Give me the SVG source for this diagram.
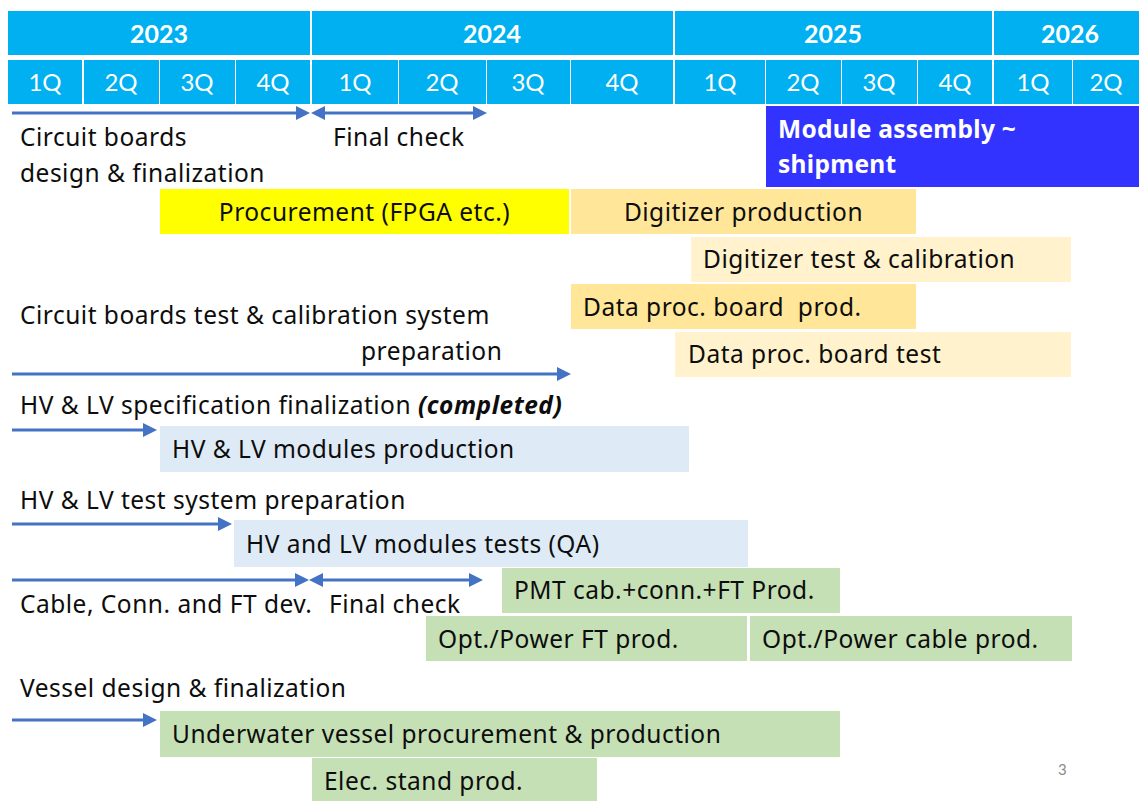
<svg xmlns="http://www.w3.org/2000/svg" width="1139" height="801" viewBox="0 0 1139 801">
  <style>
    .hdr { fill: #00B0F0; }
    .yr { fill: #FFFFFF; font-family: Lato, "Noto Sans", sans-serif; font-size: 25px; font-weight: bold; text-anchor: middle; }
    .qt { fill: #FFFFFF; font-family: Lato, "Noto Sans", sans-serif; font-size: 24px; text-anchor: middle; }
    .lbl { fill: #0D0D0D; font-family: "Noto Sans", "Open Sans", sans-serif; font-size: 24.5px; letter-spacing: 0.5px; }
    .wlbl { fill: #FFFFFF; font-family: "Noto Sans", "Open Sans", sans-serif; font-size: 24.5px; letter-spacing: 0.3px; font-weight: bold; }
    .arrow { stroke: #4472C4; stroke-width: 3; fill: none; }
    .yellow { fill: #FFFF00; }
    .orange { fill: #FFE699; }
    .cream { fill: #FFF2CC; }
    .lblue { fill: #DEEBF7; }
    .green { fill: #C5E0B4; }
    .violet { fill: #3333FF; }
  </style>
  <defs>
    <marker id="head" viewBox="0 0 14 14" refX="10" refY="7" markerWidth="14" markerHeight="14" markerUnits="userSpaceOnUse" orient="auto-start-reverse">
      <path d="M0,0 L14,7 L0,14 z" fill="#4472C4"/>
    </marker>
  </defs>
  <rect width="1139" height="801" fill="#FFFFFF"/>

  <!-- timeline header: years -->
  <g id="years">
    <rect class="hdr" x="8" y="11" width="302" height="44"/>
    <rect class="hdr" x="312" y="11" width="361" height="44"/>
    <rect class="hdr" x="675" y="11" width="317" height="44"/>
    <rect class="hdr" x="994" y="11" width="145" height="44"/>
    <text class="yr" x="159" y="43">2023</text>
    <text class="yr" x="492" y="43">2024</text>
    <text class="yr" x="833" y="43">2025</text>
    <text class="yr" x="1070" y="43">2026</text>
  </g>

  <!-- timeline header: quarters -->
  <g id="quarters">
    <rect class="hdr" x="8" y="60" width="74" height="44"/>
    <rect class="hdr" x="84" y="60" width="75" height="44"/>
    <rect class="hdr" x="160" y="60" width="75" height="44"/>
    <rect class="hdr" x="236" y="60" width="74" height="44"/>
    <rect class="hdr" x="312" y="60" width="86" height="44"/>
    <rect class="hdr" x="399" y="60" width="87" height="44"/>
    <rect class="hdr" x="487" y="60" width="83" height="44"/>
    <rect class="hdr" x="571" y="60" width="102" height="44"/>
    <rect class="hdr" x="675" y="60" width="90" height="44"/>
    <rect class="hdr" x="766" y="60" width="75" height="44"/>
    <rect class="hdr" x="842" y="60" width="75" height="44"/>
    <rect class="hdr" x="918" y="60" width="74" height="44"/>
    <rect class="hdr" x="994" y="60" width="78" height="44"/>
    <rect class="hdr" x="1073" y="60" width="66" height="44"/>
    <text class="qt" x="45" y="91">1Q</text>
    <text class="qt" x="121" y="91">2Q</text>
    <text class="qt" x="197" y="91">3Q</text>
    <text class="qt" x="273" y="91">4Q</text>
    <text class="qt" x="355" y="91">1Q</text>
    <text class="qt" x="442" y="91">2Q</text>
    <text class="qt" x="528" y="91">3Q</text>
    <text class="qt" x="622" y="91">4Q</text>
    <text class="qt" x="720" y="91">1Q</text>
    <text class="qt" x="803" y="91">2Q</text>
    <text class="qt" x="879" y="91">3Q</text>
    <text class="qt" x="955" y="91">4Q</text>
    <text class="qt" x="1033" y="91">1Q</text>
    <text class="qt" x="1106" y="91">2Q</text>
  </g>

  <!-- timeline arrows -->
  <g id="connectors">
    <line class="arrow" x1="12" y1="113" x2="306" y2="113" marker-end="url(#head)"/>
    <line class="arrow" x1="315" y1="113" x2="483" y2="113" marker-start="url(#head)" marker-end="url(#head)"/>
    <line class="arrow" x1="12" y1="374" x2="567" y2="374" marker-end="url(#head)"/>
    <line class="arrow" x1="12" y1="430" x2="153" y2="430" marker-end="url(#head)"/>
    <line class="arrow" x1="12" y1="524" x2="228" y2="524" marker-end="url(#head)"/>
    <line class="arrow" x1="12" y1="580" x2="305" y2="580" marker-end="url(#head)"/>
    <line class="arrow" x1="313" y1="580" x2="479" y2="580" marker-start="url(#head)" marker-end="url(#head)"/>
    <line class="arrow" x1="12" y1="720" x2="153" y2="720" marker-end="url(#head)"/>
  </g>

  <!-- circuit boards -->
  <g id="circuit-design">
    <text class="lbl" x="20" y="146">Circuit boards</text>
    <text class="lbl" x="20" y="182">design &amp; finalization</text>
  </g>
  <g id="circuit-final-check">
    <text class="lbl" x="333" y="146">Final check</text>
  </g>
  <g id="module-assembly">
    <rect class="violet" x="766" y="106" width="373" height="81"/>
    <text class="wlbl" x="778" y="138">Module assembly ~</text>
    <text class="wlbl" x="778" y="173">shipment</text>
  </g>
  <g id="procurement">
    <rect class="yellow" x="160" y="189" width="409" height="45"/>
    <text class="lbl" x="364.5" y="221" text-anchor="middle">Procurement (FPGA etc.)</text>
  </g>
  <g id="digitizer-production">
    <rect class="orange" x="571" y="189" width="345" height="45"/>
    <text class="lbl" x="743.5" y="221" text-anchor="middle">Digitizer production</text>
  </g>
  <g id="digitizer-test">
    <rect class="cream" x="691" y="237" width="380" height="45"/>
    <text class="lbl" x="703" y="268">Digitizer test &amp; calibration</text>
  </g>
  <g id="data-board-prod">
    <rect class="orange" x="571" y="284" width="345" height="45"/>
    <text class="lbl" x="583" y="316" xml:space="preserve">Data proc. board  prod.</text>
  </g>
  <g id="data-board-test">
    <rect class="cream" x="675" y="332" width="396" height="45"/>
    <text class="lbl" x="688" y="363">Data proc. board test</text>
  </g>
  <g id="test-system-prep">
    <text class="lbl" x="20" y="324">Circuit boards test &amp; calibration system</text>
    <text class="lbl" x="361" y="360">preparation</text>
  </g>

  <!-- HV / LV -->
  <g id="hvlv-spec">
    <text class="lbl" x="20" y="414">HV &amp; LV specification finalization <tspan font-weight="bold" font-style="italic">(completed)</tspan></text>
  </g>
  <g id="hvlv-production">
    <rect class="lblue" x="160" y="426" width="529" height="46"/>
    <text class="lbl" x="172" y="458">HV &amp; LV modules production</text>
  </g>
  <g id="hvlv-test-prep">
    <text class="lbl" x="20" y="509">HV &amp; LV test system preparation</text>
  </g>
  <g id="hvlv-tests">
    <rect class="lblue" x="234" y="520" width="514" height="47"/>
    <text class="lbl" x="246" y="553">HV and LV modules tests (QA)</text>
  </g>

  <!-- cables, connectors, feedthroughs -->
  <g id="cable-dev">
    <text class="lbl" x="20" y="613">Cable, Conn. and FT dev.</text>
    <text class="lbl" x="329" y="613">Final check</text>
  </g>
  <g id="pmt-cable">
    <rect class="green" x="502" y="568" width="338" height="45"/>
    <text class="lbl" x="514" y="599">PMT cab.+conn.+FT Prod.</text>
  </g>
  <g id="opt-ft">
    <rect class="green" x="426" y="616" width="321" height="45"/>
    <text class="lbl" x="438" y="648">Opt./Power FT prod.</text>
  </g>
  <g id="opt-cable">
    <rect class="green" x="750" y="616" width="322" height="45"/>
    <text class="lbl" x="762" y="648">Opt./Power cable prod.</text>
  </g>

  <!-- vessel -->
  <g id="vessel-design">
    <text class="lbl" x="20" y="697">Vessel design &amp; finalization</text>
  </g>
  <g id="vessel-production">
    <rect class="green" x="160" y="711" width="680" height="46"/>
    <text class="lbl" x="172" y="743">Underwater vessel procurement &amp; production</text>
  </g>
  <g id="elec-stand">
    <rect class="green" x="312" y="758" width="285" height="43"/>
    <text class="lbl" x="324" y="790">Elec. stand prod.</text>
  </g>

  <text x="1058" y="775" font-family="Lato, 'Noto Sans', sans-serif" font-size="15" fill="#8C8C8C">3</text>
</svg>
